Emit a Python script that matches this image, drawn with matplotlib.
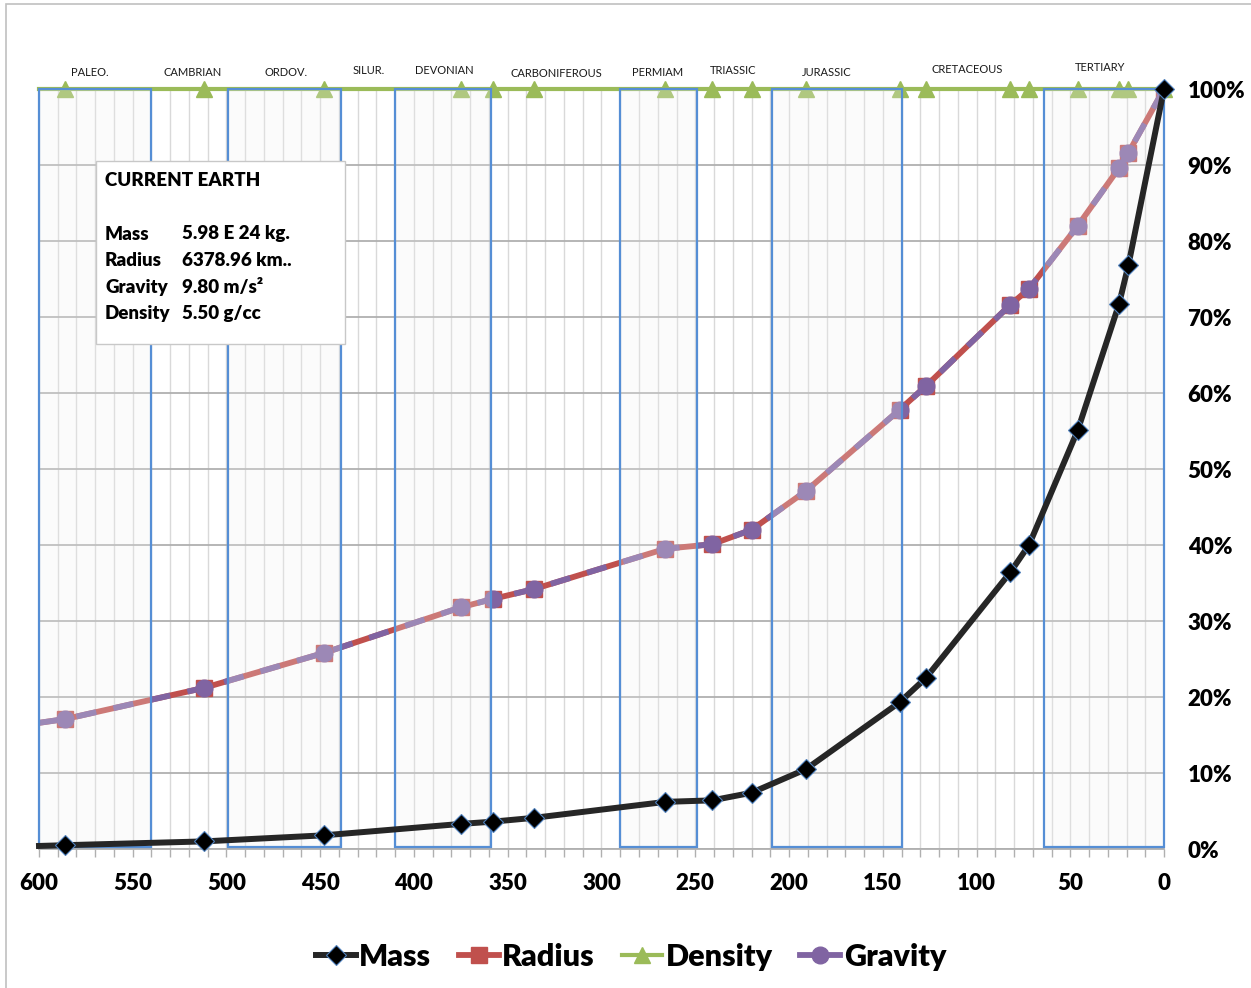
import matplotlib
matplotlib.use("Agg")
import matplotlib.pyplot as plt
from matplotlib.patches import Rectangle
from matplotlib.lines import Line2D
from matplotlib.ticker import MultipleLocator, FuncFormatter

plt.rcParams['font.family'] = ['Lato', 'DejaVu Sans']

# ---------------- data ----------------
ages = [600, 586, 512, 448, 375, 358, 336, 266, 241, 220, 191, 141, 127, 82, 72, 46, 24, 19, 0]
mass = [0.4, 0.5, 1.0, 1.8, 3.3, 3.6, 4.1, 6.2, 6.4, 7.4, 10.5, 19.3, 22.5, 36.4, 40.0, 55.1, 71.7, 76.8, 100.0]
radius = [16.6, 17.1, 21.2, 25.8, 31.8, 32.9, 34.2, 39.5, 40.1, 42.0, 47.1, 57.8, 60.9, 71.6, 73.7, 82.0, 89.6, 91.6, 100.0]
gravity = [16.6, 17.1, 21.2, 25.8, 31.8, 32.9, 34.2, 39.5, 40.1, 42.0, 47.1, 57.8, 60.9, 71.6, 73.7, 82.0, 89.6, 91.6, 100.0]
density = [100.0] * 19

period_names = ["PALEO.", "CAMBRIAN", "ORDOV.", "SILUR.", "DEVONIAN", "CARBONIFEROUS",
                "PERMIAM", "TRIASSIC", "JURASSIC", "CRETACEOUS", "TERTIARY"]
period_label_x = [573, 518, 468, 424, 384, 324, 270, 230, 180, 105, 34]
period_label_y = [102.2, 102.2, 102.2, 102.4, 102.4, 102.0, 102.2, 102.4, 102.2, 102.6, 102.8]
box_start = [600, 499, 410, 290, 209, 64]
box_end = [540, 439, 359, 249, 140, 0]

info_title = "CURRENT EARTH"
info_labels = ["Mass", "Radius", "Gravity", "Density"]
info_values = ["5.98 E 24 kg.", "6378.96 km..", "9.80 m/s\u00b2", "5.50 g/cc"]

series_names = ["Mass", "Radius", "Density", "Gravity"]

# ---------------- styling ----------------
C_MASS = "#262626"
C_RAD = "#C0504D"
C_DEN = "#9BBB59"
C_GRAV = "#8064A2"
C_BOX = "#558ED5"

W, H = 1251, 988
fig = plt.figure(figsize=(W / 100, H / 100), dpi=100)
fig.patch.set_facecolor("white")


def fx(px):
    return px / W


def fy(py):
    return 1 - py / H


ax = fig.add_axes([fx(39), fy(849), fx(1164) - fx(39), fy(89) - fy(849)])
ax.set_xlim(600, 0)
ax.set_ylim(0, 100)
ax.set_facecolor("white")

# grid
ax.xaxis.set_major_locator(MultipleLocator(50))
ax.xaxis.set_minor_locator(MultipleLocator(10))
ax.yaxis.set_major_locator(MultipleLocator(10))
ax.grid(True, which="minor", axis="x", color="#d9d9d9", lw=1.0, zorder=0)
ax.grid(True, which="major", axis="x", color="#d9d9d9", lw=1.0, zorder=0)
ax.grid(True, which="major", axis="y", color="#b0b0b0", lw=1.3, zorder=0)
ax.set_axisbelow(True)

for s in ["top", "left", "right"]:
    ax.spines[s].set_visible(False)
ax.spines["bottom"].set_color("#b0b0b0")
ax.spines["bottom"].set_linewidth(1.3)

ax.tick_params(axis="x", which="both", direction="out", length=6, color="#b0b0b0", width=1)
ax.tick_params(axis="x", which="major", pad=11, labelsize=16)
ax.yaxis.tick_right()
ax.tick_params(axis="y", which="both", length=0, pad=17, labelsize=16)
ax.yaxis.set_major_formatter(FuncFormatter(lambda v, p: f"{int(round(v))}%"))
for lab in ax.get_xticklabels() + ax.get_yticklabels():
    lab.set_fontweight("heavy")

mk = list(range(1, len(ages)))

# series under the period overlays
ax.plot(ages, density, color=C_DEN, lw=3, marker="^", ms=12, mfc=C_DEN, mec=C_DEN,
        markevery=mk, zorder=3, clip_on=False)
ax.plot(ages, radius, color=C_RAD, lw=4.2, marker="s", ms=12, mfc=C_RAD, mec=C_RAD,
        markevery=mk, zorder=5, solid_capstyle="butt")
ax.plot(ages, gravity, color=C_GRAV, lw=4.2, ls=(0, (3.5, 3)), marker="o", ms=12,
        mfc=C_GRAV, mec=C_GRAV, markevery=mk, zorder=6)

# period boxes (translucent overlays)
for a0, a1 in zip(box_start, box_end):
    ax.add_patch(Rectangle((a1, 0.3), a0 - a1, 99.7, facecolor="#f0f0f0", alpha=0.26,
                           edgecolor="none", zorder=7, clip_on=False))
    ax.add_patch(Rectangle((a1, 0.3), a0 - a1, 99.7, facecolor="none", edgecolor=C_BOX,
                           lw=1.6, zorder=8, clip_on=False))

# mass series on top
ax.plot(ages, mass, color=C_MASS, lw=4.3, marker="D", ms=10, mfc="black", mec="#4F81BD",
        mew=0.8, markevery=mk, zorder=9, clip_on=False)

# period labels
for name, x, y in zip(period_names, period_label_x, period_label_y):
    ax.text(x, y, name, ha="center", va="center", fontsize=8, color="#1a1a1a", clip_on=False)

# info box
fig.patches.append(Rectangle((fx(96), fy(344)), fx(345) - fx(96), fy(161) - fy(344),
                             transform=fig.transFigure, facecolor="white",
                             edgecolor="#c8c8c8", lw=1, zorder=20))
fig.text(fx(105), fy(181), info_title, fontsize=13.5, fontweight="heavy", va="center",
         ha="left", zorder=21)
row_y = [234, 260, 287, 314]
for lab, val, py in zip(info_labels, info_values, row_y):
    fig.text(fx(105), fy(py), lab, fontsize=13.5, fontweight="heavy", va="center", ha="left", zorder=21)
    fig.text(fx(182), fy(py), val, fontsize=13.5, fontweight="heavy", va="center", ha="left", zorder=21)

# legend
handles = [
    Line2D([], [], color=C_MASS, lw=4.3, marker="D", ms=10, mfc="black", mec="#4F81BD", mew=0.8),
    Line2D([], [], color=C_RAD, lw=4.2, marker="s", ms=12, mfc=C_RAD, mec=C_RAD),
    Line2D([], [], color=C_DEN, lw=3, marker="^", ms=12, mfc=C_DEN, mec=C_DEN),
    Line2D([], [], color=C_GRAV, lw=4.2, marker="o", ms=12, mfc=C_GRAV, mec=C_GRAV),
]
leg = fig.legend(handles, series_names, loc="center", bbox_to_anchor=(fx(631), fy(957)),
                 ncol=4, frameon=False, handlelength=1.3, handletextpad=0.12,
                 columnspacing=0.9,
                 prop={"family": ["Lato", "DejaVu Sans"], "weight": "heavy", "size": 22})

# chart-area border
fig.patches.append(Rectangle((fx(6), -0.1), 1.2, fy(4) + 0.1, transform=fig.transFigure,
                             facecolor="none", edgecolor="#c0c0c0", lw=1.2, zorder=0))

fig.savefig("out.png", dpi=100)
